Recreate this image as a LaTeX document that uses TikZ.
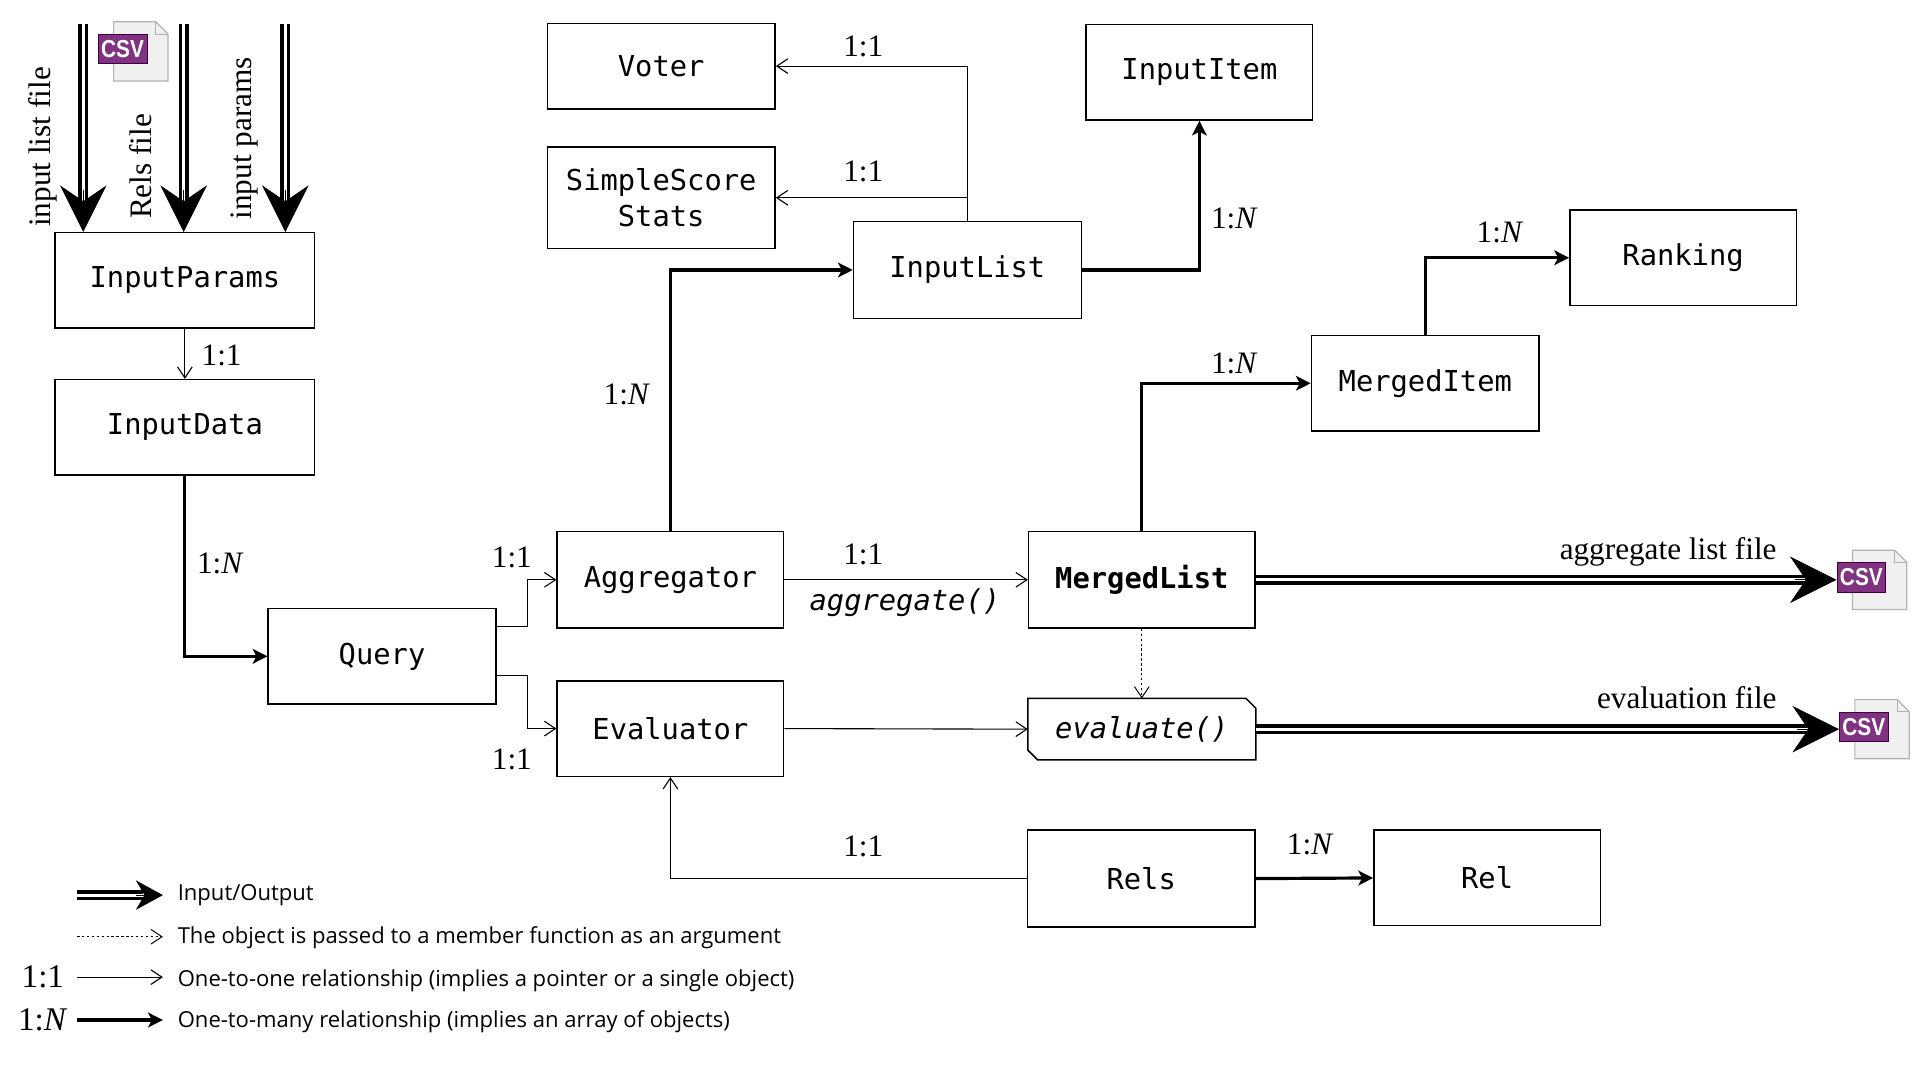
\documentclass[tikz,border=0pt]{standalone}
\usepackage{fontspec}
\setmainfont{Liberation Serif}
\setmonofont{DejaVu Sans Mono}
\newfontfamily\legendfont{Open Sans}
\newfontfamily\iconfont{Liberation Sans}
\usetikzlibrary{arrows.meta,calc}
\begin{document}
\begin{tikzpicture}[x=1pt,y=-1pt,
  box/.style={draw, line width=1.2pt, inner sep=0pt, minimum width=186pt, minimum height=78pt, font=\ttfamily\fontsize{23.5}{30}\selectfont, align=center},
  thin/.style={line width=0.9pt, -{Straight Barb[length=9pt,width=12pt]}},
  thick/.style={line width=2.6pt, -{Stealth[length=12pt,width=12pt,inset=3pt]}},
  dotl/.style={line width=0.8pt, dash pattern=on 2pt off 2pt, -{Straight Barb[length=9pt,width=12pt]}},
  io/.style={double, line width=2.8pt, double distance=2.6pt},
  iotip/.style={line width=0.5pt, -{Stealth[length=38pt,width=38pt,inset=13pt]}},
  iotipS/.style={line width=0.5pt, -{Stealth[length=22pt,width=24pt,inset=7pt]}},
  lab/.style={font=\fontsize{25.5}{28}\selectfont, inner sep=1pt},
  leg/.style={font=\legendfont\fontsize{18}{22}\selectfont, anchor=west, inner sep=0pt},
  csv/.style={minimum width=57pt, minimum height=48pt, inner sep=0pt}
]
\useasboundingbox (0,0) rectangle (1568,882);
\newcommand\csvicon[1]{%
  \fill[gray!12] ($(#1.north west)+(13,0)$) -- ($(#1.north east)+(-10,0)$) -- ($(#1.north east)+(0,10)$) -- (#1.south east) -- ($(#1.south west)+(13,0)$) -- cycle;
  \draw[gray!60, line width=1pt] ($(#1.north west)+(13,0)$) -- ($(#1.north east)+(-10,0)$) -- ($(#1.north east)+(0,10)$) -- (#1.south east) -- ($(#1.south west)+(13,0)$) -- cycle;
  \draw[gray!60, line width=0.8pt] ($(#1.north east)+(-10,0)$) -- ($(#1.north east)+(-10,10)$) -- ($(#1.north east)+(0,10)$);
  \node[fill=violet!60!gray, draw=violet!50!black, line width=0.6pt, text=white, inner sep=1pt, minimum width=40pt, minimum height=24pt, font=\iconfont\bfseries\fontsize{20}{20}\selectfont, anchor=west] at ($(#1.west)+(0,-2)$) {\scalebox{0.85}[1]{CSV}};}
\newcommand\ioarrow[3][iotip]{%
  \draw[io, shorten >=26pt] (#2) -- (#3);
  \draw[#1] ($(#3)!34pt!(#2)$) -- (#3);}

% nodes
\node[box, minimum width=212pt] (IP) at (151,229) {InputParams};
\node[box, minimum width=212pt] (ID) at (151,349) {InputData};
\node[box] (Q) at (312,536) {Query};
\node[box, minimum width=185pt, minimum height=79pt] (AG) at (547.5,473.5) {Aggregator};
\node[box, minimum width=185pt] (EV) at (547.5,595) {Evaluator};
\node[box, minimum height=70pt] (VO) at (540,54) {Voter};
\node[box, minimum height=83pt] (SS) at (540,161.5) {SimpleScore\\Stats};
\node[box, minimum height=79pt] (IL) at (790,220.5) {InputList};
\node[box, minimum width=185pt] (II) at (979.5,59) {InputItem};
\node[box, minimum width=185pt] (RK) at (1374.5,210.5) {Ranking};
\node[box] (MI) at (1164,313) {MergedItem};
\node[box, minimum width=185pt, minimum height=79pt, font=\ttfamily\bfseries\fontsize{23.5}{30}\selectfont] (ML) at (932.5,473.5) {MergedList};
\node[box, draw=none, minimum width=185pt, minimum height=49pt, font=\ttfamily\itshape\fontsize{23.5}{30}\selectfont] (EF) at (932.5,595.5) {evaluate()};
\draw[line width=1.2pt] (EF.north west) -- ($(EF.north east)+(-8,0)$) -- ($(EF.north east)+(0,8)$) -- (EF.south east) -- ($(EF.south west)+(8,0)$) -- ($(EF.south west)+(0,-8)$) -- cycle;
\node[box, minimum height=79pt] (RS) at (932,717.5) {Rels};
\node[box, minimum width=185pt] (RL) at (1214.5,717) {Rel};

% csv icons
\node[csv] (C0) at (108.5,42) {};
\node[csv] (C1) at (1528.5,473.5) {};
\node[csv] (C2) at (1530.5,595.5) {};
\csvicon{C0}\csvicon{C1}\csvicon{C2}

% input arrows
\coordinate (t1) at (68,20); \coordinate (t2) at (150,20); \coordinate (t3) at (233,20);
\ioarrow{t1}{t1 |- IP.north}
\ioarrow{t2}{t2 |- IP.north}
\ioarrow{t3}{t3 |- IP.north}
\node[lab, rotate=90] at (35,120) {input list file};
\node[lab, rotate=90] at (115,136) {Rels file};
\node[lab, rotate=90] at (200,113) {input params};

% connectors
\draw[thin] (IP.south) -- (ID.north);
\node[lab] at (181,290) {1:1};
\draw[thick] (ID.south) |- (Q.west);
\node[lab] at (180,460) {1:\textit{N}};
\draw[thin] ([yshift=24pt]Q.east) -- ++(25,0) |- (AG.west);
\node[lab] at (418,455) {1:1};
\draw[thin] ([yshift=-16pt]Q.east) -- ++(25,0) |- (EV.west);
\node[lab] at (418,620) {1:1};
\draw[thick] (AG.north) |- (IL.west);
\node[lab] at (512,322) {1:\textit{N}};
\draw[thin] (IL.north) |- (VO.east);
\node[lab] at (705,38) {1:1};
\draw[thin] (IL.north) |- (SS.east);
\node[lab] at (705,140) {1:1};
\draw[thick] (IL.east) -| (II.south);
\node[lab] at (1008,178) {1:\textit{N}};
\draw[thin] (AG.east) -- (ML.west);
\node[lab] at (705,453) {1:1};
\node[font=\ttfamily\itshape\fontsize{23.5}{30}\selectfont] at (739,492) {aggregate()};
\draw[thick] (ML.north) |- (MI.west);
\node[lab] at (1008,297) {1:\textit{N}};
\draw[thick] (MI.north) |- (RK.west);
\node[lab] at (1225,190) {1:\textit{N}};
\draw[dotl] (ML.south) -- (EF.north);
\draw[thin] (EV.east) -- (EF.west);
\draw[thin] (RS.west) -| (EV.south);
\node[lab] at (705,691) {1:1};
\draw[thick] (RS.east) -- (RL.west);
\node[lab] at (1070,690) {1:\textit{N}};

% output arrows
\ioarrow{ML.east}{C1.west}
\node[lab, anchor=east] at (1452,451) {aggregate list file};
\ioarrow{EF.east}{C2.west}
\node[lab, anchor=east] at (1452,570) {evaluation file};

% legend
\coordinate (l1a) at (63,731); \coordinate (l1b) at (133,731);
\draw[io, shorten >=16pt] (l1a) -- (l1b);
\draw[iotipS] ($(l1b)!22pt!(l1a)$) -- (l1b);
\node[leg] at (145,731) {Input/Output};
\coordinate (l2a) at (63,765); \coordinate (l2b) at (133,765);
\draw[dotl] (l2a) -- (l2b);
\node[leg] at (145,766) {The object is passed to a member function as an argument};
\coordinate (l3a) at (63,798); \coordinate (l3b) at (133,798);
\draw[thin] (l3a) -- (l3b);
\node[leg] at (145,801) {One-to-one relationship (implies a pointer or a single object)};
\node[lab, font=\fontsize{27}{30}\selectfont] at (35,798) {1:1};
\coordinate (l4a) at (63,833); \coordinate (l4b) at (133,833);
\draw[thick] (l4a) -- (l4b);
\node[leg] at (145,834) {One-to-many relationship (implies an array of objects)};
\node[lab, font=\fontsize{27}{30}\selectfont] at (35,833) {1:\textit{N}};
\end{tikzpicture}
\end{document}
